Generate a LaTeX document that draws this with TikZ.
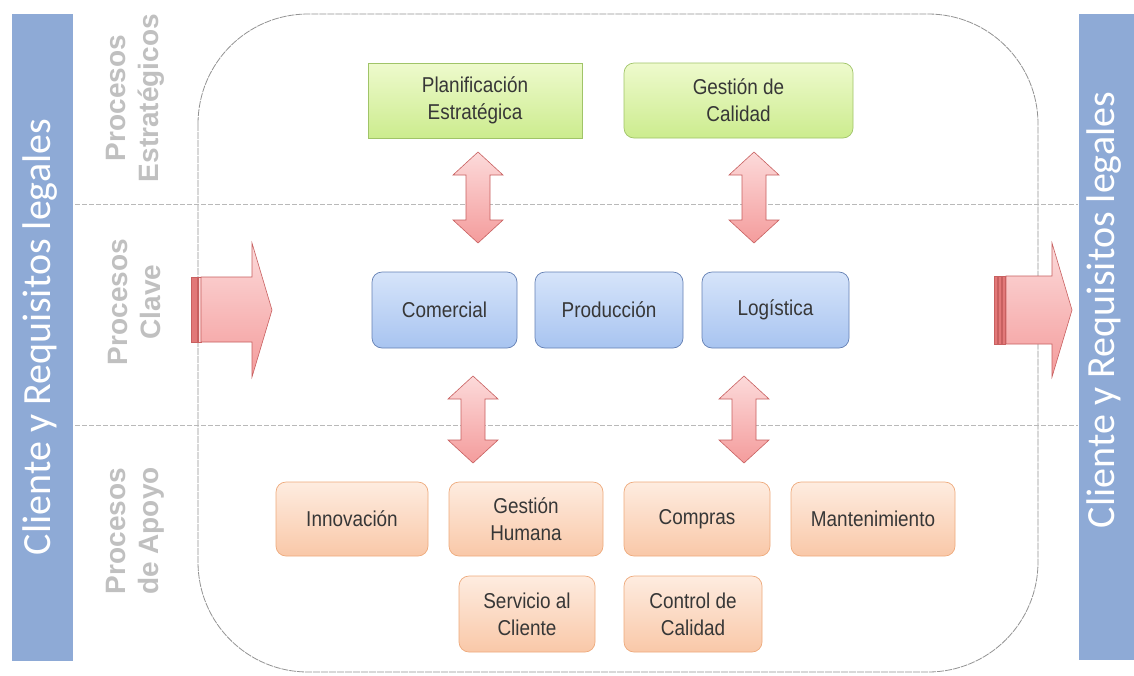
\documentclass[tikz,border=0pt]{standalone}
\usepackage{fontspec}
\setmainfont{Liberation Sans}
\newfontfamily\barfont{Carlito}
\newfontfamily\boxfont{Liberation Sans}[FakeStretch=0.88]
\definecolor{barblue}{RGB}{142,170,214}
\definecolor{lblgray}{RGB}{192,192,192}
\definecolor{txt}{RGB}{55,55,55}
\definecolor{gtop}{RGB}{238,250,205}
\definecolor{gbot}{RGB}{204,236,142}
\definecolor{gline}{RGB}{160,196,104}
\definecolor{btop}{RGB}{214,228,250}
\definecolor{bbot}{RGB}{168,196,240}
\definecolor{bline}{RGB}{100,128,180}
\definecolor{otop}{RGB}{254,236,224}
\definecolor{obot}{RGB}{249,200,168}
\definecolor{oline}{RGB}{238,170,124}
\definecolor{atop}{RGB}{252,218,218}
\definecolor{abot}{RGB}{244,156,156}
\definecolor{aline}{RGB}{200,96,96}
\definecolor{stripe}{RGB}{226,120,120}
\newcommand\dblarr[3]{%
 \path[blockarr] (#1,#2) -- (#1+25,#2+23) -- (#1+12,#2+23) -- (#1+12,#3-23) -- (#1+25,#3-23) -- (#1,#3) -- (#1-25,#3-23) -- (#1-12,#3-23) -- (#1-12,#2+23) -- (#1-25,#2+23) -- cycle;}
\begin{document}
\begin{tikzpicture}[x=1pt,y=-1pt,
  procbox/.style={draw, line width=0.7pt, rounded corners=10pt, inner sep=0pt, align=center,
    text=txt, font=\boxfont\fontsize{21.5}{27}\selectfont},
  greenbox/.style={procbox, draw=gline, top color=gtop, bottom color=gbot},
  bluebox/.style={procbox, draw=bline, top color=btop, bottom color=bbot},
  orangebox/.style={procbox, draw=oline, top color=otop, bottom color=obot},
  blockarr/.style={draw=aline, line width=0.6pt, top color=atop, bottom color=abot},
  stripebar/.style={draw=aline, line width=0.5pt, fill=stripe},
  rowlabel/.style={rotate=90, align=center, text=lblgray, font=\bfseries\fontsize{28}{33}\selectfont},
  bartext/.style={rotate=90, text=white, font=\barfont\fontsize{40}{44}\selectfont},
  divider/.style={draw=gray!55, line width=0.8pt, dash pattern=on 5pt off 2pt},
  frame/.style={draw=gray!85, line width=0.8pt, dash pattern=on 7pt off 1pt, rounded corners=110pt}]
\useasboundingbox (0,0) rectangle (1134,675);
\fill[white] (0,0) rectangle (1134,675);
% frame
\draw[frame] (198,14) rectangle (1038,672);
% dividers
\draw[divider] (75,204) -- (1078,204);
\draw[divider] (75,425) -- (1078,425);
% side bars
\fill[barblue] (12,14) rectangle (73,661);
\fill[barblue] (1079,14) rectangle (1134,660);
\node[bartext] (lbar) at (40,337) {Cliente y Requisitos legales};
\node[bartext] (rbar) at (1104,310) {Cliente y Requisitos legales};
% row labels
\node[rowlabel] (rowE) at (135,98) {Procesos\\Estratégicos};
\node[rowlabel] (rowC) at (135,302) {Procesos\\Clave};
\node[rowlabel] (rowA) at (135,531) {Procesos\\de Apoyo};
% strategic
\node[greenbox, rounded corners=0pt, minimum width=214pt, minimum height=75pt] (plan) at (475,100.5) {Planificación\\Estratégica};
\node[greenbox, minimum width=229pt, minimum height=75pt] (gcal) at (738.5,100.5) {Gestión de\\Calidad};
% key
\node[bluebox, minimum width=145pt, minimum height=76pt] (com) at (444.5,310) {Comercial};
\node[bluebox, minimum width=148pt, minimum height=76pt] (prod) at (609,310) {Producción};
\node[bluebox, minimum width=147pt, minimum height=76pt] (log) at (775.5,310) {Logística};
% support
\node[orangebox, minimum width=152pt, minimum height=74pt] (inn) at (352,519) {Innovación};
\node[orangebox, minimum width=154pt, minimum height=74pt] (gh) at (526,519) {Gestión\\Humana};
\node[orangebox, minimum width=146pt, minimum height=74pt] (comp) at (697,519) {Compras};
\node[orangebox, minimum width=164pt, minimum height=74pt] (mant) at (873,519) {Mantenimiento};
\node[orangebox, minimum width=136pt, minimum height=76pt] (serv) at (527,614) {Servicio al\\Cliente};
\node[orangebox, minimum width=138pt, minimum height=76pt] (ctrl) at (693,614) {Control de\\Calidad};
% vertical double arrows
\dblarr{478}{152}{243}
\dblarr{754}{152}{243}
\dblarr{473}{376}{463}
\dblarr{744}{376}{463}
% left input arrow
\path[stripebar] (191,277) rectangle (197,342);
\path[stripebar, fill=atop] (198,277) rectangle (201,342);
\path[blockarr] (201,277) -- (252,277) -- (252,243) -- (272,310) -- (252,377) -- (252,342) -- (201,342) -- cycle;
% right output arrow
\path[stripebar] (994,276) rectangle (997,344);
\path[stripebar] (998,276) rectangle (1001,344);
\path[stripebar] (1002,276) rectangle (1005,344);
\path[blockarr] (1006,276) -- (1052,276) -- (1052,243) -- (1072,310) -- (1052,377) -- (1052,344) -- (1006,344) -- cycle;
\end{tikzpicture}
\end{document}
